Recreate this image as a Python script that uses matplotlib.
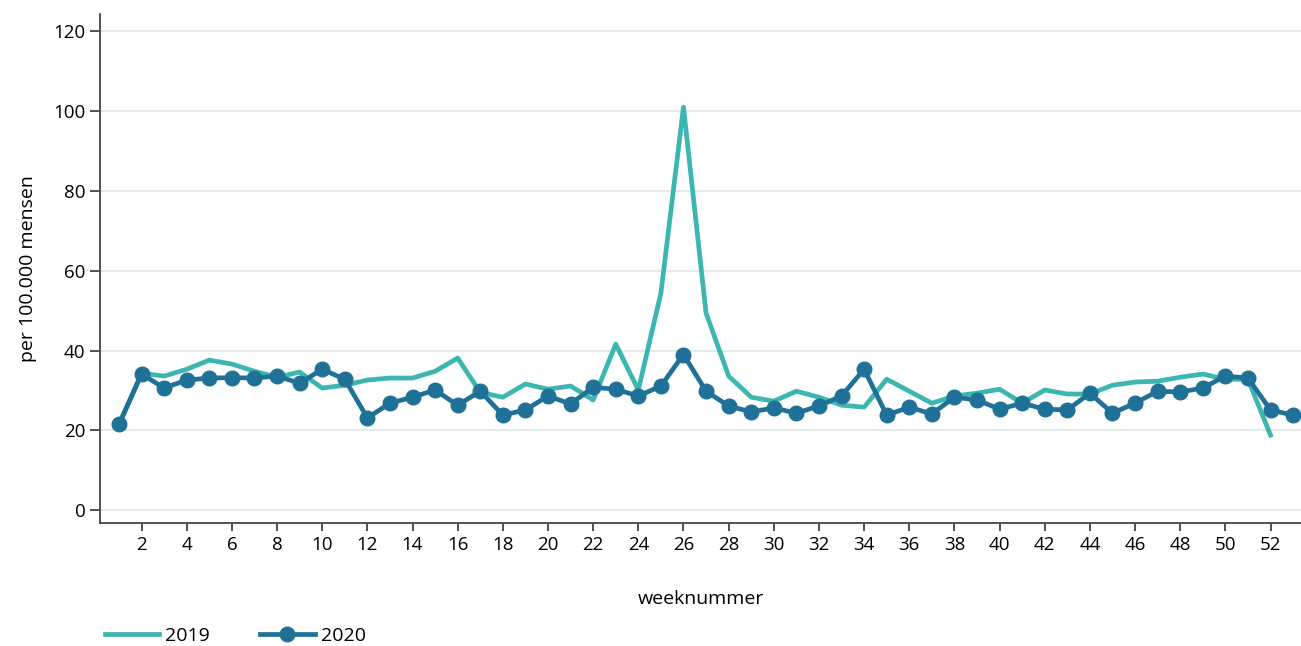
import matplotlib
matplotlib.use('Agg')
import matplotlib.pyplot as plt

plt.rcParams['font.family'] = ['Open Sans', 'DejaVu Sans']

# weekly values per 100.000 people
weeks_2019 = list(range(1, 53))
values_2019 = [21.5, 34.3, 33.6, 35.3, 37.6, 36.6, 34.8, 33.3, 34.6, 30.6,
               31.3, 32.6, 33.1, 33.1, 34.8, 38.1, 29.5, 28.3, 31.6, 30.3,
               31.1, 27.6, 41.6, 30.1, 54.4, 101.0, 49.4, 33.6, 28.3, 27.3,
               29.8, 28.3, 26.3, 25.8, 32.8, 29.8, 26.8, 28.6, 29.3, 30.3,
               26.8, 30.1, 29.1, 29.1, 31.3, 32.1, 32.3, 33.3, 34.1, 32.8,
               32.8, 18.8]

weeks_2020 = list(range(1, 54))
values_2020 = [21.5, 34.1, 30.6, 32.6, 33.1, 33.2, 33.1, 33.6, 31.8, 35.3,
               32.8, 23.1, 26.8, 28.3, 30.1, 26.3, 29.8, 23.8, 25.1, 28.6,
               26.6, 30.8, 30.3, 28.6, 31.1, 39.0, 29.8, 26.1, 24.6, 25.6,
               24.3, 26.1, 28.6, 35.3, 23.8, 25.8, 24.1, 28.3, 27.6, 25.3,
               26.8, 25.3, 25.1, 29.3, 24.3, 26.8, 29.8, 29.6, 30.6, 33.6,
               33.1, 25.1, 23.8]

c2019 = '#3cb6b1'
c2020 = '#1f7197'

fig = plt.figure(figsize=(13.01, 6.46), dpi=100)
ax = fig.add_axes([0.0769, 0.19, 0.9231, 0.788])

ax.plot(weeks_2019, values_2019, color=c2019, lw=3.4, label='2019', zorder=3)
ax.plot(weeks_2020, values_2020, color=c2020, lw=3.4, marker='o', markersize=10.5,
        label='2020', zorder=4)

ax.set_xlim(0.16, 53.35)
ax.set_ylim(-3.3, 124.3)
ax.set_yticks(range(0, 121, 20))
ax.set_xticks(range(2, 54, 2))
ax.tick_params(axis='both', labelsize=13.5, colors='#333333', labelcolor='black',
               length=7, width=1.2)
ax.tick_params(axis='x', length=6, pad=3)

ax.grid(axis='y', color='#dde6e6', lw=1.2)
ax.set_axisbelow(True)
for s in ['top', 'right']:
    ax.spines[s].set_visible(False)
for s in ['left', 'bottom']:
    ax.spines[s].set_color('#444444')
    ax.spines[s].set_linewidth(1.3)

ax.set_xlabel('weeknummer', fontsize=14, labelpad=26)
ax.set_ylabel('per 100.000 mensen', fontsize=14, labelpad=12)

fig.legend(loc='lower left', bbox_to_anchor=(0.067, -0.025), ncol=2,
           frameon=False, fontsize=14, handlelength=2.8, columnspacing=2.6,
           handletextpad=0.3)

fig.savefig('out.png', dpi=100)
